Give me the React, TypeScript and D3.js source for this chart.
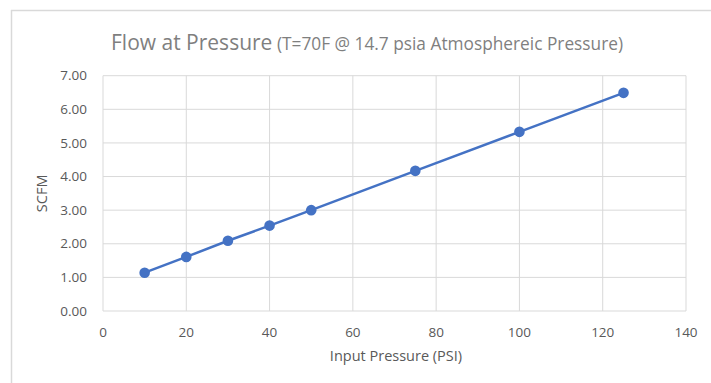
import React from "react";
import * as d3 from "d3";

const pressures = [10, 20, 30, 40, 50, 75, 100, 125];
const flows = [1.14, 1.61, 2.09, 2.54, 3.0, 4.17, 5.33, 6.49];
const xTicks = [0, 20, 40, 60, 80, 100, 120, 140];
const yTicks = [0, 1, 2, 3, 4, 5, 6, 7];
const titleMain = "Flow at Pressure";
const titleSub = " (T=70F @ 14.7 psia Atmosphereic Pressure)";
const xTitle = "Input Pressure (PSI)";
const yTitle = "SCFM";

export default function App() {
  const W = 711, H = 383;
  const left = 103, right = 686, top = 75.7, bottom = 311;
  const x = d3.scaleLinear().domain([0, 140]).range([left, right]);
  const y = d3.scaleLinear().domain([0, 7]).range([bottom, top]);
  const pts = pressures.map((p, i) => [p, flows[i]] as [number, number]);
  const line = d3.line<[number, number]>().x(d => x(d[0])).y(d => y(d[1]));
  const font = "Open Sans, sans-serif";
  const grid = "#d9d9d9";
  const txt = "#595959";
  return (
    <svg width={W} height={H} style={{ position: "absolute", left: 0, top: 0, background: "#fff" }}>
      <rect x={0} y={0} width={W} height={H} fill="#fff" />
      <line x1={11.5} y1={10} x2={11.5} y2={H} stroke={grid} strokeWidth={1.5} />
      <line x1={11} y1={10.5} x2={W} y2={10.5} stroke={grid} strokeWidth={1.5} />
      {yTicks.map(t => (
        <line key={"gy" + t} x1={left} x2={right} y1={y(t)} y2={y(t)} stroke={grid} strokeWidth={1} />
      ))}
      {xTicks.map(t => (
        <line key={"gx" + t} x1={x(t)} x2={x(t)} y1={top} y2={bottom} stroke={grid} strokeWidth={1} />
      ))}
      {yTicks.map(t => (
        <text key={"ty" + t} x={87} y={y(t)} dy="0.35em" textAnchor="end" fontFamily={font} fontSize={13.5} fill={txt}>
          {d3.format(".2f")(t)}
        </text>
      ))}
      {xTicks.map(t => (
        <text key={"tx" + t} x={x(t)} y={332} dy="0.35em" textAnchor="middle" fontFamily={font} fontSize={13.5} fill={txt}>
          {t}
        </text>
      ))}
      <text x={396} y={356} dy="0.35em" textAnchor="middle" fontFamily={font} fontSize={14.5} fill={txt}>
        {xTitle}
      </text>
      <text transform={`translate(42,${(top + bottom) / 2}) rotate(-90)`} textAnchor="middle" dy="0.35em" fontFamily={font} fontSize={14.5} fill={txt}>
        {yTitle}
      </text>
      <text x={111} y={50} fontFamily={font} fill="#7f7f7f">
        <tspan fontSize={21}>{titleMain}</tspan>
        <tspan fontSize={17.3}>{titleSub}</tspan>
      </text>
      <path d={line(pts) || ""} fill="none" stroke="#4472C4" strokeWidth={2.5} />
      {pts.map((d, i) => (
        <circle key={i} cx={x(d[0])} cy={y(d[1])} r={5.3} fill="#4472C4" />
      ))}
    </svg>
  );
}
